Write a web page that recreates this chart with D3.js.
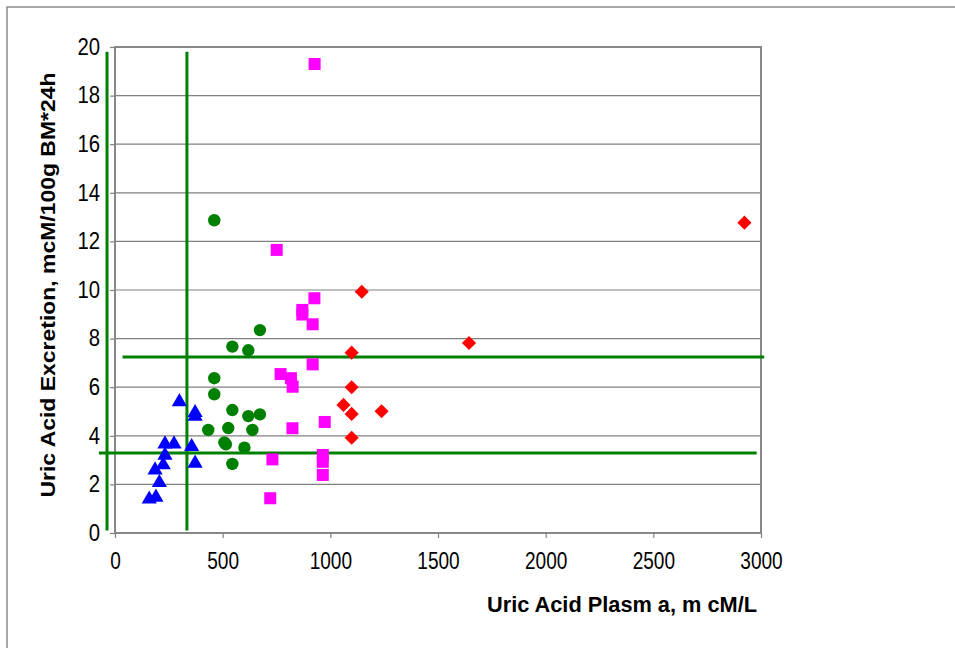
<!DOCTYPE html>
<html><head><meta charset="utf-8">
<script src="https://cdn.jsdelivr.net/npm/d3@7"></script>
<style>body{margin:0;background:#fff;} svg{display:block;font-family:"Liberation Sans",Arial,sans-serif;}</style>
</head><body>
<svg id="c" width="955" height="648"></svg>
<script>
const xTicks = [0,500,1000,1500,2000,2500,3000];
const yTicks = [0,2,4,6,8,10,12,14,16,18,20];
const xTitle = "Uric Acid Plasm a, m cM/L";
const yTitle = "Uric Acid Excretion, mcM/100g BM*24h";

// blue triangles
const triX = [299,372,372,232,274,356,372,232,224,186,206,159,190];
const triY = [5.4,4.95,4.8,3.66,3.66,3.55,2.87,3.2,2.8,2.59,2.07,1.39,1.47];
// green circles
const cirX = [461,673,545,619,461,461,545,619,673,433,526,638,508,515,601,545];
const cirY = [12.87,8.35,7.67,7.52,6.37,5.71,5.06,4.81,4.88,4.24,4.32,4.24,3.73,3.65,3.51,2.84];
// magenta squares
const sqX = [927,751,926,870,870,918,918,769,817,825,824,974,731,965,965,965,721];
const sqY = [19.3,11.65,9.66,9.18,8.99,8.59,6.94,6.54,6.37,6.02,4.31,4.57,3.03,3.21,2.93,2.39,1.43];
// red diamonds
const diaX = [1146,1099,1099,1061,1099,1238,1099,1644,2923];
const diaY = [9.93,7.42,6.0,5.27,4.9,5.01,3.92,7.82,12.77];
// green reference lines [x1,y1,x2,y2] in data units
const refLines = [[-37,19.8,-37,0.1],[334,19.8,334,0.1],[35,7.24,3015,7.24],[-75,3.29,2980,3.29]];

const svg = d3.select("#c");
const L=115,T=47,R=761,B=533;
const x = d3.scaleLinear().domain([0,3000]).range([L,R]);
const y = d3.scaleLinear().domain([0,20]).range([B,T]);

// outer frame
svg.append("path").attr("d","M7,648 L7,7 L955,7").attr("fill","none").attr("stroke","#8c8c8c").attr("stroke-width",1.5);

// gridlines
svg.append("g").selectAll("line").data(yTicks.slice(1,-1)).join("line")
  .attr("x1",L).attr("x2",R).attr("y1",d=>y(d)).attr("y2",d=>y(d))
  .attr("stroke","#808080").attr("stroke-width",1.2);

// plot border
svg.append("rect").attr("x",L).attr("y",T).attr("width",R-L).attr("height",B-T)
  .attr("fill","none").attr("stroke","#888").attr("stroke-width",2);

// axes
const ya = svg.append("g").attr("transform",`translate(${L},0)`)
  .call(d3.axisLeft(y).tickValues(yTicks).tickFormat(d3.format("d")).tickSize(5).tickPadding(10));
const xa = svg.append("g").attr("transform",`translate(0,${B})`)
  .call(d3.axisBottom(x).tickValues(xTicks).tickFormat(d3.format("d")).tickSize(5).tickPadding(15));
[ya,xa].forEach((a,i)=>{
  a.select(".domain").remove();
  a.selectAll("line").attr("stroke","#808080").attr("stroke-width",1.2);
  a.selectAll("text").attr("font-size",23).attr("fill","#000").attr("font-family","Liberation Sans, Arial, sans-serif")
    .attr("textLength",d=>String(d).length*(i===0?11.3:10.6)).attr("lengthAdjust","spacingAndGlyphs");
});

// green reference lines
svg.append("g").selectAll("line").data(refLines).join("line")
  .attr("x1",d=>x(d[0])).attr("y1",d=>y(d[1])).attr("x2",d=>x(d[2])).attr("y2",d=>y(d[3]))
  .attr("stroke","#008000").attr("stroke-width",3);

// markers
const g = svg.append("g");
g.selectAll(".cir").data(cirX.map((v,i)=>[v,cirY[i]])).join("circle")
  .attr("cx",d=>x(d[0])).attr("cy",d=>y(d[1])).attr("r",6.2).attr("fill","#008000");
g.selectAll(".sq").data(sqX.map((v,i)=>[v,sqY[i]])).join("rect")
  .attr("x",d=>x(d[0])-6).attr("y",d=>y(d[1])-6).attr("width",12).attr("height",12).attr("fill","#ff00ff");
const tri = d3.symbol().type(d3.symbolTriangle).size(100);
g.selectAll(".tri").data(triX.map((v,i)=>[v,triY[i]])).join("path")
  .attr("d",tri).attr("transform",d=>`translate(${x(d[0])},${y(d[1])})`).attr("fill","#0000ff");
const dia = d3.symbol().type(d3.symbolSquare).size(100);
g.selectAll(".dia").data(diaX.map((v,i)=>[v,diaY[i]])).join("path")
  .attr("d",dia).attr("transform",d=>`translate(${x(d[0])},${y(d[1])}) rotate(45)`).attr("fill","#ff0000");

// titles
svg.append("text").attr("x",622).attr("y",612).attr("text-anchor","middle")
  .attr("font-size",22).attr("font-weight","bold")
  .attr("textLength",270).attr("lengthAdjust","spacingAndGlyphs").text(xTitle);
svg.append("text").attr("transform","translate(55,285) rotate(-90)").attr("text-anchor","middle")
  .attr("font-size",21).attr("font-weight","bold")
  .attr("textLength",425).attr("lengthAdjust","spacingAndGlyphs").text(yTitle);
</script>
</body></html>
